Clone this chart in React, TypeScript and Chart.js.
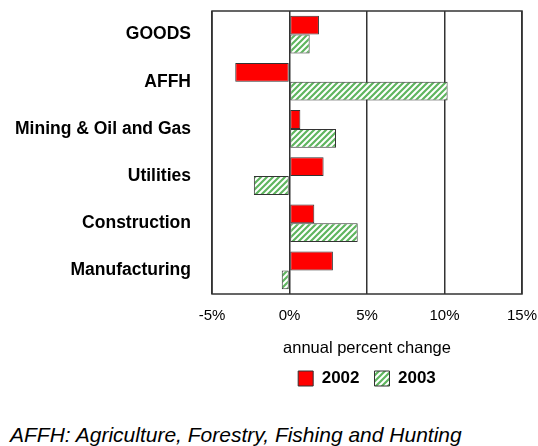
import React, { useEffect, useRef } from "react";
import { Chart, registerables } from "chart.js";

Chart.register(...registerables);

const categories = [
  "GOODS",
  "AFFH",
  "Mining & Oil and Gas",
  "Utilities",
  "Construction",
  "Manufacturing",
];
const series2002 = [1.9, -3.5, 0.7, 2.2, 1.6, 2.8];
const series2003 = [1.3, 10.2, 3.0, -2.3, 4.4, -0.5];
const seriesLabels = ["2002", "2003"];
const xTicks = [-5, 0, 5, 10, 15];
const axisTitle = "annual percent change";
const footnote = "AFFH: Agriculture, Forestry, Fishing and Hunting";

const LINE = "#333333";
const FONT = "'Liberation Sans', Arial, sans-serif";

function makeHatch(): CanvasPattern | string {
  const tile = document.createElement("canvas");
  tile.width = 6;
  tile.height = 6;
  const c = tile.getContext("2d");
  if (!c) return "#6cbf6c";
  c.fillStyle = "#ffffff";
  c.fillRect(0, 0, 6, 6);
  c.strokeStyle = "#5fb55f";
  c.lineWidth = 2.2;
  c.beginPath();
  c.moveTo(-1, 7);
  c.lineTo(7, -1);
  c.moveTo(-4, 4);
  c.lineTo(4, -4);
  c.moveTo(2, 10);
  c.lineTo(10, 2);
  c.stroke();
  const p = c.createPattern(tile, "repeat");
  return p || "#6cbf6c";
}

// Outline around the plot area (top edge and sides included)
const frame = {
  id: "frame",
  beforeDatasetsDraw(chart: Chart) {
    const { ctx, chartArea } = chart;
    ctx.save();
    ctx.strokeStyle = LINE;
    ctx.lineWidth = 1.5;
    ctx.strokeRect(chartArea.left, chartArea.top, chartArea.right - chartArea.left, chartArea.bottom - chartArea.top);
    ctx.restore();
  },
};

function noEdgePadding(scale: any) {
  scale.paddingLeft = 0;
  scale.paddingRight = 0;
  scale.paddingTop = 0;
  scale.paddingBottom = 0;
}

export default function App() {
  const ref = useRef<HTMLCanvasElement | null>(null);

  useEffect(() => {
    if (!ref.current) return;
    const hatch = makeHatch();
    const chart = new Chart(ref.current, {
      type: "bar",
      data: {
        labels: categories,
        datasets: [
          {
            label: seriesLabels[0],
            data: series2002,
            backgroundColor: "#ff0000",
            borderColor: LINE,
            borderWidth: 1,
            borderSkipped: false,
          },
          {
            label: seriesLabels[1],
            data: series2003,
            backgroundColor: hatch as any,
            borderColor: LINE,
            borderWidth: 1,
            borderSkipped: false,
          },
        ],
      },
      options: {
        indexAxis: "y",
        responsive: false,
        animation: false,
        devicePixelRatio: 1,
        categoryPercentage: 0.8,
        barPercentage: 1,
        layout: { padding: { top: 11, right: 16, bottom: 3, left: 0 } },
        scales: {
          x: {
            type: "linear",
            min: xTicks[0],
            max: xTicks[xTicks.length - 1],
            afterBuildTicks(scale: any) {
              scale.ticks = xTicks.map((v) => ({ value: v }));
            },
            afterFit(scale: any) {
              scale.height = 61;
              noEdgePadding(scale);
            },
            grid: { color: LINE, lineWidth: 1.5, drawTicks: false },
            border: { display: false },
            ticks: {
              padding: 13,
              color: "#000",
              font: { family: FONT, size: 15 },
              callback: (v: any) => `${v}%`,
            },
            title: {
              display: true,
              text: axisTitle,
              color: "#000",
              padding: { top: 0, bottom: -3 },
              font: { family: FONT, size: 16.5 },
            },
          },
          y: {
            afterFit(scale: any) {
              scale.width = 212;
              noEdgePadding(scale);
            },
            grid: { display: false },
            border: { display: false },
            ticks: {
              padding: 13,
              color: "#000",
              font: { family: FONT, size: 17.5, weight: "bold" },
            },
          },
        },
        plugins: {
          legend: {
            position: "bottom",
            fullSize: false,
            labels: {
              boxWidth: 15,
              boxHeight: 15,
              padding: 15,
              color: "#000",
              font: { family: FONT, size: 17, weight: "bold" },
            },
          },
          tooltip: { enabled: false },
        },
      },
      plugins: [frame],
    });
    return () => chart.destroy();
  }, []);

  return (
    <div style={{ position: "absolute", left: 0, top: 0, width: 538, height: 446, background: "#fff", overflow: "hidden" }}>
      <canvas ref={ref} width={538} height={400} style={{ position: "absolute", left: 0, top: 0, width: 538, height: 400 }} />
      <div
        style={{
          position: "absolute",
          left: 10,
          top: 424,
          fontFamily: FONT,
          fontStyle: "italic",
          fontSize: 21,
          lineHeight: "21px",
          whiteSpace: "nowrap",
          color: "#000",
        }}
      >
        {footnote}
      </div>
    </div>
  );
}
